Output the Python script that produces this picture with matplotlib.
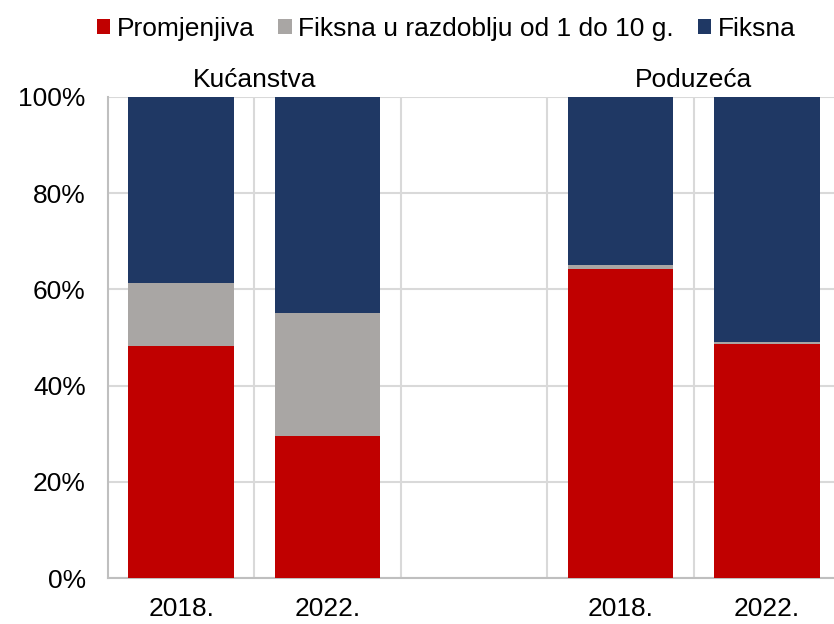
import matplotlib.pyplot as plt
import numpy as np

plt.rcParams['font.family'] = ['Liberation Sans', 'DejaVu Sans']

years = ['2018.', '2022.', '', '2018.', '2022.']
groups = ['Kućanstva', 'Poduzeća']
series = ['Promjenjiva', 'Fiksna u razdoblju od 1 do 10 g.', 'Fiksna']

promjenjiva = [48.2, 29.5, np.nan, 64.2, 48.6]
fiksna_1_10 = [13.1, 25.6, np.nan, 0.8, 0.5]
fiksna = [38.7, 44.9, np.nan, 35.0, 50.9]

colors = ['#C00000', '#A9A6A4', '#1F3864']

fig = plt.figure(figsize=(8.34, 6.24), dpi=100)
ax = fig.add_axes([108 / 834, 1 - 578 / 624, 732 / 834, 481 / 624])

x = np.arange(len(years))
bottom = np.zeros(len(years))
for vals, name, col in zip([promjenjiva, fiksna_1_10, fiksna], series, colors):
    v = np.nan_to_num(np.array(vals))
    ax.bar(x, v, 0.72, bottom=bottom, color=col, label=name, zorder=3)
    bottom += v

ax.set_xlim(-0.5, 4.5)
ax.set_ylim(0, 100)
ax.set_yticks(np.arange(0, 101, 20))
ax.set_yticklabels([f'{t}%' for t in range(0, 101, 20)])
ax.set_xticks(x)
ax.set_xticklabels(years)
ax.tick_params(length=0, labelsize=19, pad=14)
ax.tick_params(axis='y', pad=16)

# separators between the bars and horizontal grid
ax.set_xticks(x[:-1] + 0.5, minor=True)
ax.grid(axis='y', color='#D9D9D9', lw=1.5, zorder=0)
ax.grid(axis='x', which='minor', color='#D9D9D9', lw=1.5, zorder=0)
ax.tick_params(which='minor', length=0)

for s in ['top', 'right']:
    ax.spines[s].set_visible(False)
for s in ['left', 'bottom']:
    ax.spines[s].set_color('#BFBFBF')
    ax.spines[s].set_linewidth(1.5)

ax.text(0.5, 101.0, groups[0], ha='center', va='bottom', fontsize=19)
ax.text(3.5, 101.0, groups[1], ha='center', va='bottom', fontsize=19)

fig.legend(loc='upper center', bbox_to_anchor=(0.535, 0.998), ncol=3, frameon=False,
           fontsize=19, handlelength=0.5, handleheight=0.5, handletextpad=0.25,
           columnspacing=0.9, borderaxespad=0.2)

fig.savefig('out.png', dpi=100)
